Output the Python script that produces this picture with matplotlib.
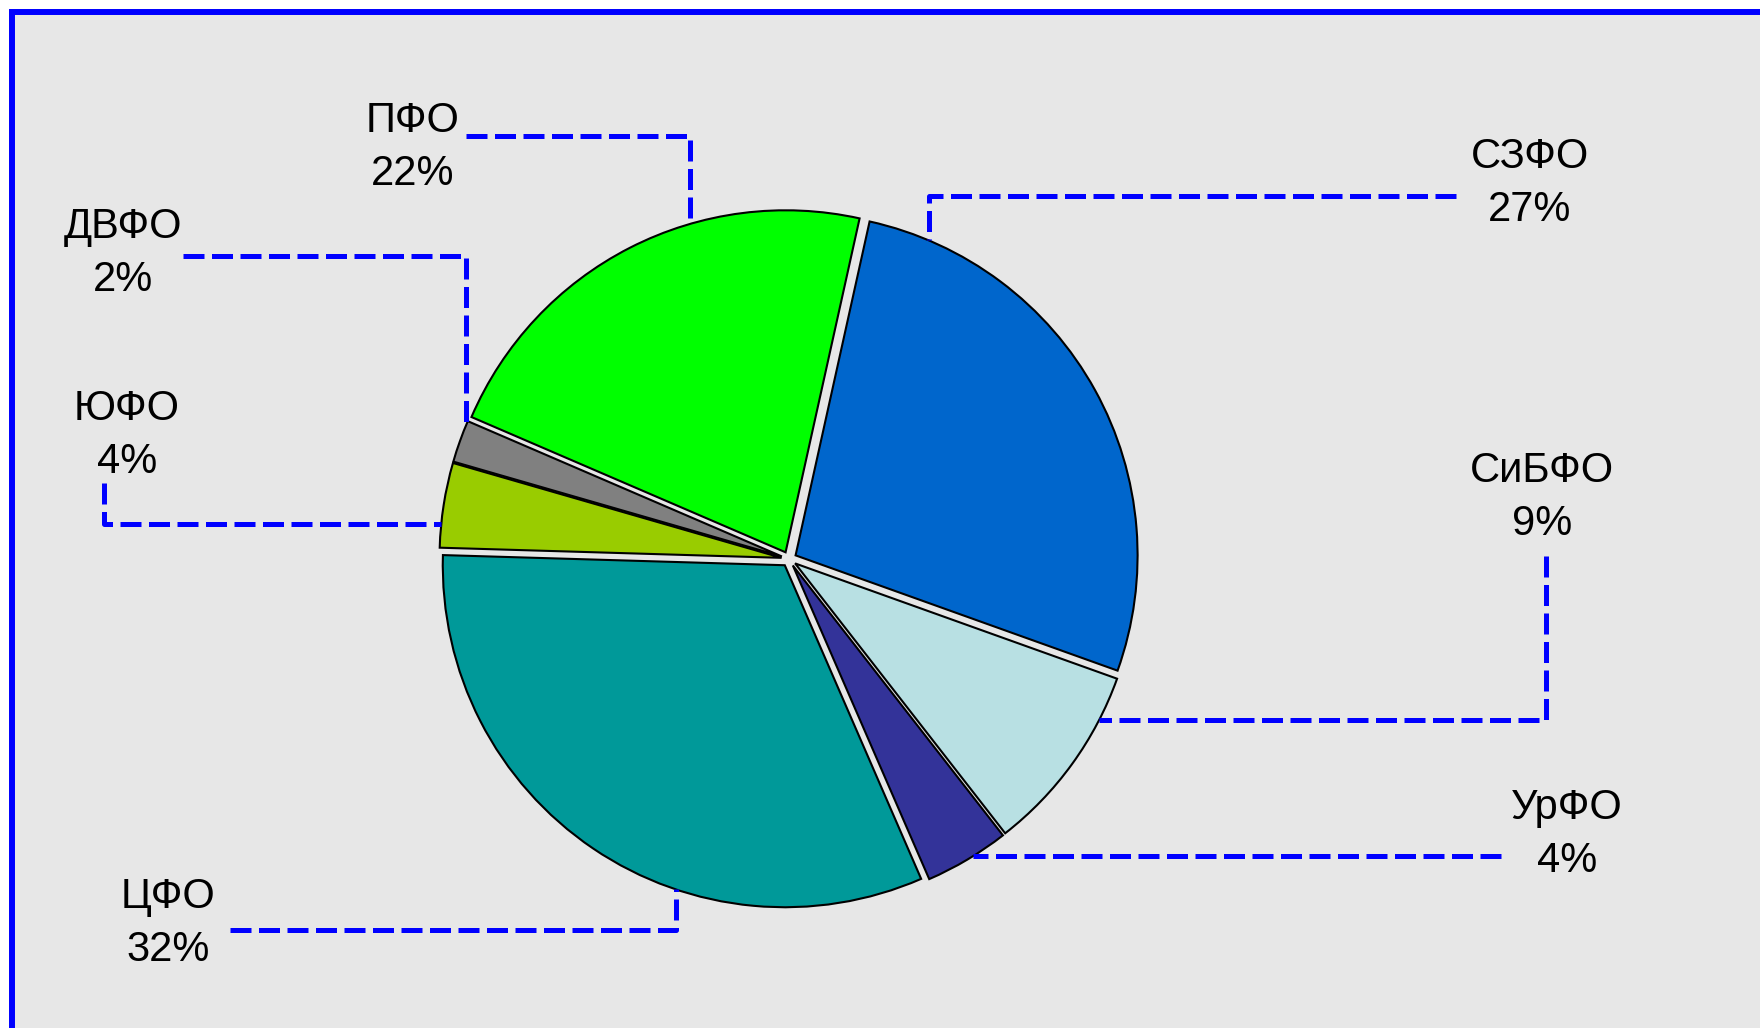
import numpy as np
import matplotlib
matplotlib.use('Agg')
import matplotlib.pyplot as plt
from matplotlib.patches import Rectangle

# ---- data ----
regions = ['СЗФО', 'СиБФО', 'УрФО', 'ЦФО', 'ЮФО', 'ДВФО', 'ПФО']
shares = [27, 9, 4, 32, 4, 2, 22]
colors = ['#0066CC', '#B8E0E3', '#333399', '#009999', '#99CC00', '#808080', '#00FF00']
pct_labels = [f'{v}%' for v in shares]

# ---- layout (pixels) ----
W, H = 1760, 1028
CX, CY, R = 789, 559, 342
EXPLODE = 0.022
START = 77.5

plt.rcParams['font.family'] = ['Liberation Sans', 'DejaVu Sans']

fig = plt.figure(figsize=(W / 100, H / 100), dpi=100)
fig.patch.set_facecolor('white')

# background panel with blue frame (right/bottom edges lie outside the image)
bg = Rectangle((12 / W, -0.1), 1.2, (1 - 12 / H) + 0.1, transform=fig.transFigure,
               facecolor='#E7E7E7', edgecolor='#0000FF', linewidth=4.3, zorder=-5)
fig.add_artist(bg)

ax = fig.add_axes([0, 0, 1, 1])
ax.patch.set_alpha(0)

wedges, _ = ax.pie(shares, colors=colors, startangle=START, counterclock=False,
                   radius=1, explode=[EXPLODE] * len(shares),
                   wedgeprops=dict(edgecolor='black', linewidth=1.5))
ax.set_aspect('auto')
ax.set_xlim(-CX / R, (W - CX) / R)
ax.set_ylim((CY - H) / R, CY / R)
ax.axis('off')


def P(xp, yp):
    return ((xp - CX) / R, (CY - yp) / R)


# label positions (centre of first line, pixels) and leader routes
label_pos = {
    'ПФО': (413, 116), 'ДВФО': (123, 222), 'ЮФО': (127, 404), 'ЦФО': (168, 892),
    'СЗФО': (1530, 152), 'СиБФО': (1542, 466), 'УрФО': (1567, 803),
}
routes = {
    'ПФО': ([(466, 136), (690, 136)], 'v', +1),
    'ДВФО': ([(183, 256), (466, 256)], 'v', +1),
    'ЮФО': ([(104, 483), (104, 524)], 'h', -1),
    'ЦФО': ([(230, 930), (676, 930)], 'v', -1),
    'СЗФО': ([(1456, 196), (929, 196)], 'v', +1),
    'СиБФО': ([(1546, 556), (1546, 720)], 'h', +1),
    'УрФО': ([(1501, 856)], 'h', +1),
}
LINE_GAP = 53
FS = 30

for i, name in enumerate(regions):
    xp, yp = label_pos[name]
    bx, by = P(xp, yp + 16)
    ax.text(bx, by, name, fontsize=FS, ha='center', va='baseline', color='black')
    bx2, by2 = P(xp, yp + 16 + LINE_GAP)
    ax.text(bx2, by2, pct_labels[i], fontsize=FS, ha='center', va='baseline', color='black')

    pts, mode, sign = routes[name]
    pts = [P(*p) for p in pts]
    wc = wedges[i].center
    wr = wedges[i].r
    lx, ly = pts[-1]
    if mode == 'v':
        ey = wc[1] + sign * np.sqrt(max(wr ** 2 - (lx - wc[0]) ** 2, 0))
        pts.append((lx, ey))
    else:
        ex = wc[0] + sign * np.sqrt(max(wr ** 2 - (ly - wc[1]) ** 2, 0))
        pts.append((ex, ly))
    xs = [p[0] for p in pts]
    ys = [p[1] for p in pts]
    line, = ax.plot(xs, ys, color='#0000FF', linewidth=3.6, solid_joinstyle='miter',
                    zorder=1)
    line.set_dashes((4.2, 1.5))

fig.savefig('out.png', dpi=100, facecolor='white')
